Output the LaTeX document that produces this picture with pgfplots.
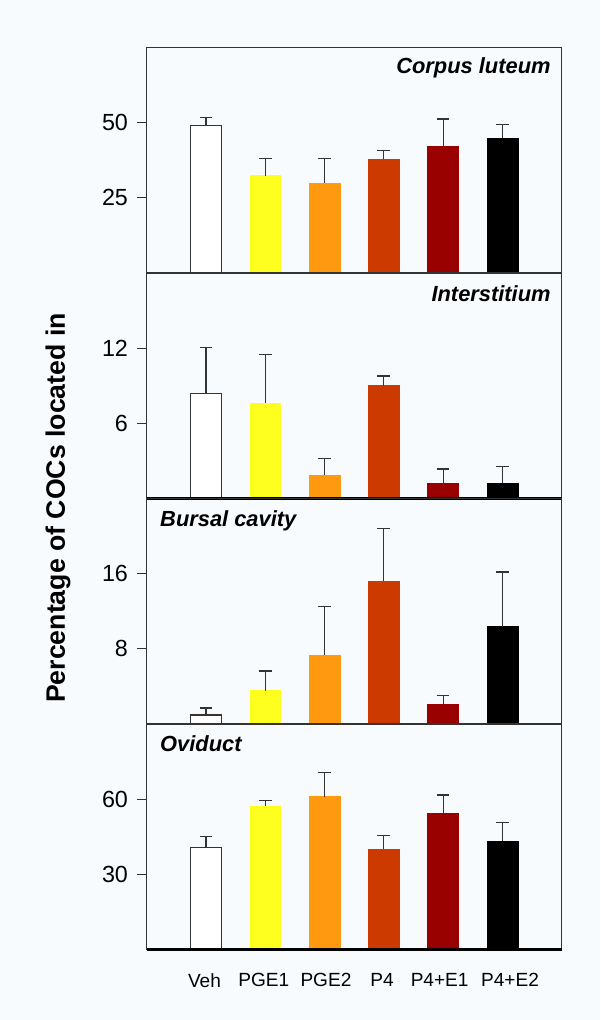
\documentclass[border=0pt]{standalone}
\usepackage{fontspec}
\setmainfont{Liberation Sans}
\usepackage{pgfplots}
\pgfplotsset{compat=1.18}
\definecolor{bg}{HTML}{F8FBFE}
\definecolor{cedge}{HTML}{333333}
\definecolor{cyel}{HTML}{FFFF1F}
\definecolor{corg}{HTML}{FF9910}
\definecolor{cpf}{HTML}{CD3A00}
\definecolor{ceo}{HTML}{990000}
\definecolor{cet}{HTML}{000000}
\tikzset{ttl/.style={font=\fontsize{16.4}{19}\selectfont\bfseries\itshape, inner sep=0pt}}
\pgfplotsset{
  panel/.style={
    scale only axis, width=311.25pt, height=169.125pt,
    anchor=south west, xmin=-1, xmax=6, ymin=0,
    clip=false,
    axis line style={draw=cedge, line width=0.8pt},
    ytick pos=left, tick align=outside, major tick length=7.5pt,
    ytick style={draw=cedge, line width=0.8pt},
    xtick=\empty,
    /pgf/number format/assume math mode=true,
    yticklabel style={font=\fontsize{17.5}{20}\selectfont, xshift=-3pt},
    every axis plot/.append style={ybar, bar width=0.52, bar shift=0pt,
      /pgfplots/error bars/y dir=plus, /pgfplots/error bars/y explicit,
      /pgfplots/error bars/error bar style={draw=cedge, line width=0.9pt},
      /pgfplots/error bars/error mark options={rotate=90, mark size=4.75pt, draw=cedge, line width=0.9pt}},
  },
}
\begin{document}
\begin{tikzpicture}
\path[use as bounding box, fill=bg] (0,0) rectangle (450pt,765pt);
% Panel 1: Corpus luteum
\begin{axis}[panel, at={(110pt,560.25pt)}, ymax=75, ytick={25,50}]
\addplot[fill=white, draw=cedge, line width=0.9pt] coordinates {(0,49.0) +- (0,2.8)};
\addplot[fill=cyel, draw=cyel] coordinates {(1,32.4) +- (0,5.6)};
\addplot[fill=corg, draw=corg] coordinates {(2,30.0) +- (0,8.0)};
\addplot[fill=cpf, draw=cpf] coordinates {(3,37.8) +- (0,2.9)};
\addplot[fill=ceo, draw=ceo] coordinates {(4,42.3) +- (0,8.9)};
\addplot[fill=cet, draw=cet] coordinates {(5,44.8) +- (0,4.7)};
\draw[line width=1.8pt, black] (rel axis cs:0,0) -- (rel axis cs:1,0);
\node[ttl, anchor=base east] at (rel axis cs:0.974,0.886) {Corpus luteum};
\end{axis}
% Panel 2: Interstitium
\begin{axis}[panel, at={(110pt,391.125pt)}, ymax=18, ytick={6,12}]
\addplot[fill=white, draw=cedge, line width=0.9pt] coordinates {(0,8.40) +- (0,3.67)};
\addplot[fill=cyel, draw=cyel] coordinates {(1,7.60) +- (0,3.88)};
\addplot[fill=corg, draw=corg] coordinates {(2,1.85) +- (0,1.33)};
\addplot[fill=cpf, draw=cpf] coordinates {(3,9.00) +- (0,0.78)};
\addplot[fill=ceo, draw=ceo] coordinates {(4,1.24) +- (0,1.11)};
\addplot[fill=cet, draw=cet] coordinates {(5,1.24) +- (0,1.30)};
\draw[line width=1.8pt, black] (rel axis cs:0,0) -- (rel axis cs:1,0);
\node[ttl, anchor=base east] at (rel axis cs:0.974,0.875) {Interstitium};
\end{axis}
% Panel 3: Bursal cavity
\begin{axis}[panel, at={(110pt,222pt)}, ymax=24, ytick={8,16}]
\addplot[fill=white, draw=cedge, line width=0.9pt] coordinates {(0,0.96) +- (0,0.74)};
\addplot[fill=cyel, draw=cyel] coordinates {(1,3.54) +- (0,2.10)};
\addplot[fill=corg, draw=corg] coordinates {(2,7.31) +- (0,5.17)};
\addplot[fill=cpf, draw=cpf] coordinates {(3,15.19) +- (0,5.64)};
\addplot[fill=ceo, draw=ceo] coordinates {(4,2.10) +- (0,0.91)};
\addplot[fill=cet, draw=cet] coordinates {(5,10.36) +- (0,5.82)};
\draw[line width=1.8pt, black] (rel axis cs:0,0) -- (rel axis cs:1,0);
\node[ttl, anchor=base west] at (rel axis cs:0.032,0.875) {Bursal cavity};
\end{axis}
% Panel 4: Oviduct
\begin{axis}[panel, at={(110pt,52.875pt)}, ymax=90, ytick={30,60},
  xtick={-0.025,0.975,2.024,2.969,3.942,5.128}, xtick style={draw=none},
  xticklabels={Veh,PGE1,PGE2,P4,P4+E1,P4+E2},
  xticklabel style={font=\fontsize{14.3}{17}\selectfont, yshift=-6.8pt}]
\addplot[fill=white, draw=cedge, line width=0.9pt] coordinates {(0,40.6) +- (0,4.4)};
\addplot[fill=cyel, draw=cyel] coordinates {(1,57.3) +- (0,2.1)};
\addplot[fill=corg, draw=corg] coordinates {(2,61.0) +- (0,9.7)};
\addplot[fill=cpf, draw=cpf] coordinates {(3,40.0) +- (0,5.6)};
\addplot[fill=ceo, draw=ceo] coordinates {(4,54.5) +- (0,7.2)};
\addplot[fill=cet, draw=cet] coordinates {(5,43.3) +- (0,7.5)};
\draw[line width=1.8pt, black] (rel axis cs:0,0) -- (rel axis cs:1,0);
\node[ttl, anchor=base west] at (rel axis cs:0.032,0.877) {Oviduct};
\end{axis}
\node[rotate=90, font=\fontsize{20}{24}\selectfont\bfseries, inner sep=0pt] at (43.5pt,384pt) {Percentage of COCs located in};
\end{tikzpicture}
\end{document}
